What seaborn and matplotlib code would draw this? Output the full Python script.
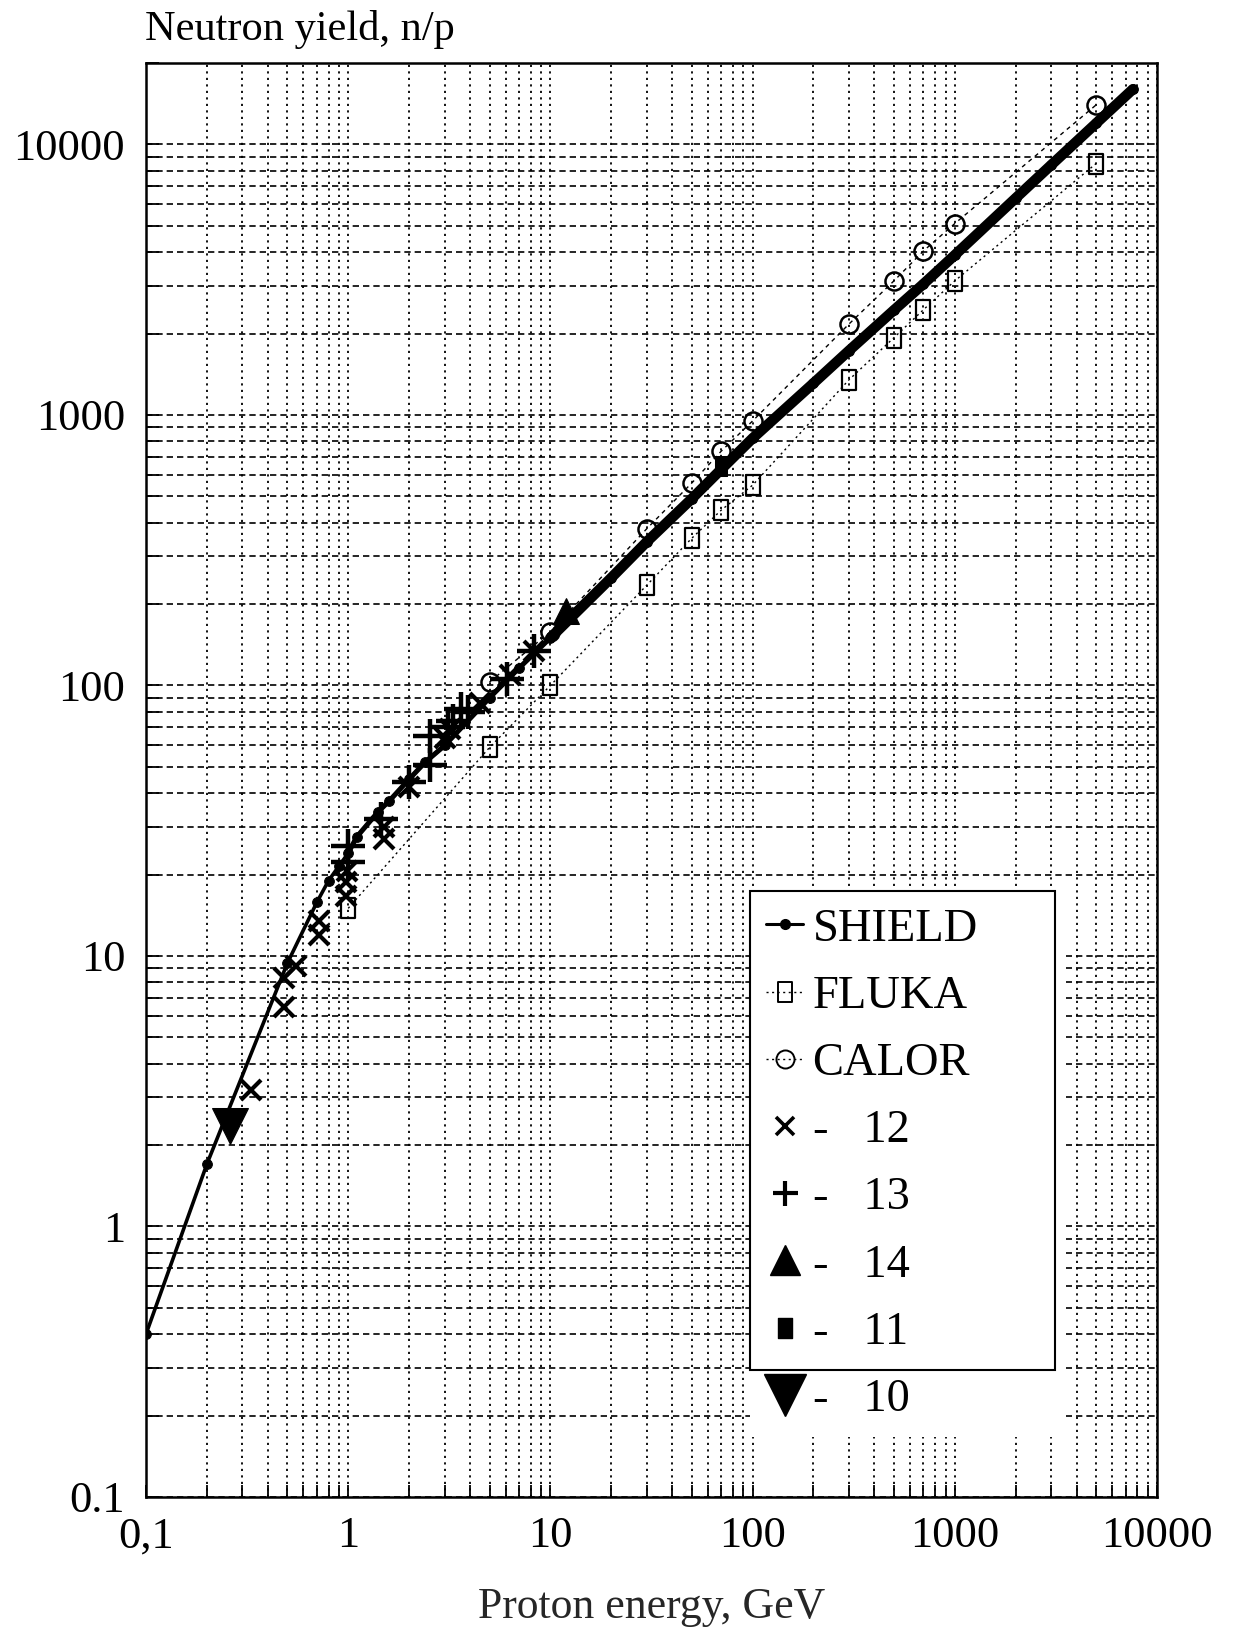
import numpy as np
import pandas as pd
import matplotlib
matplotlib.use("Agg")
import matplotlib.pyplot as plt
import seaborn as sns
from matplotlib.lines import Line2D
from matplotlib.patches import Rectangle
from matplotlib.path import Path

# ---------------- data ----------------
shield_e = [0.1, 0.2, 0.5, 0.7, 0.8, 0.9, 1.0, 1.1, 1.4, 1.6, 2.0, 2.4, 3.0, 5.0, 7.0,
            10, 20, 30, 50, 70, 100, 200, 300, 500, 700, 1000, 2000, 3000, 5000, 7600]
shield_y = [0.40, 1.7, 9.4, 15.8, 19.0, 21.5, 24.0, 27.5, 34.0, 37.5, 45.0, 52.0, 60.0, 90.0, 116,
            150, 250, 340, 490, 630, 820, 1310, 1730, 2440, 3050, 3900, 6330, 8400, 11970, 16000]

fluka_e = [1, 5, 10, 30, 50, 70, 100, 300, 500, 700, 1000, 5000]
fluka_y = [15, 59, 100, 235, 350, 445, 550, 1350, 1930, 2450, 3130, 8500]

calor_e = [5, 10, 30, 50, 70, 100, 300, 500, 700, 1000, 5000]
calor_y = [103, 158, 380, 560, 735, 950, 2170, 3130, 4040, 5100, 14000]

exp12_e = [0.33, 0.48, 0.48, 0.55, 0.72, 0.72, 0.98, 0.98, 0.99, 1.5, 1.5, 2.0, 3.0, 3.2, 4.5, 6.3, 8.3]
exp12_y = [3.2, 6.5, 8.3, 9.2, 12.0, 13.5, 16.7, 18.8, 20.6, 27, 30, 42, 64, 69, 86, 109, 134]

exp13_e = [1.0, 1.0, 1.45, 2.0, 2.55, 2.55, 3.1, 3.3, 3.6, 3.9, 6.1, 8.3]
exp13_y = [22.3, 25.5, 32, 44, 51, 65, 70, 74, 82, 80, 106, 134]

exp14_e = [12]
exp14_y = [188]
exp11_e = [70]
exp11_y = [650]
exp10_e = [0.26]
exp10_y = [2.35]

xticks = [0.1, 1, 10, 100, 1000, 10000]
xticklabels = ["0,1", "1", "10", "100", "1000", "10000"]
yticks = [0.1, 1, 10, 100, 1000, 10000]
yticklabels = ["0.1", "1", "10", "100", "1000", "10000"]

legend_labels = ["SHIELD", "FLUKA", "CALOR", "-   12", "-   13", "-   14", "-   11", "-   10"]

# ---------------- style ----------------
sns.set_theme(style="white")
plt.rcParams["font.family"] = ["Liberation Serif", "DejaVu Serif"]
plt.rcParams["axes.edgecolor"] = "black"
plt.rcParams["text.color"] = "black"
plt.rcParams["xtick.color"] = "black"
plt.rcParams["ytick.color"] = "black"

W, H = 1233, 1629
fig = plt.figure(figsize=(W / 100, H / 100), dpi=100)
L, R, T, B = 146, 1157, 63, 1497
ax = fig.add_axes([L / W, 1 - B / H, (R - L) / W, (B - T) / H])

ax.set_xscale("log")
ax.set_yscale("log")
ax.set_xlim(0.1, 10000)
ax.set_ylim(0.1, 20000)

# grid: vertical dotted, horizontal dashed
ax.grid(True, which="both", axis="x", color="black", linestyle=(0, (1.2, 2.4)), linewidth=1.3)
ax.grid(True, which="both", axis="y", color="black", linestyle=(0, (3.8, 2.4)), linewidth=1.2)
ax.set_axisbelow(True)

for s in ax.spines.values():
    s.set_linewidth(1.8)
    s.set_color("black")

ax.set_xticks(xticks, xticklabels)
ax.set_yticks(yticks, yticklabels)
ax.tick_params(which="both", direction="in", length=9, width=1.3, top=False, right=False,
               bottom=True, left=True)
ax.tick_params(axis="x", which="major", labelsize=32, pad=14)
ax.tick_params(axis="y", which="major", labelsize=32, pad=15)
ax.xaxis.set_minor_formatter(matplotlib.ticker.NullFormatter())
ax.yaxis.set_minor_formatter(matplotlib.ticker.NullFormatter())

rect_marker = Path([(-0.33, -0.5), (0.33, -0.5), (0.33, 0.5), (-0.33, 0.5), (-0.33, -0.5)],
                   [Path.MOVETO, Path.LINETO, Path.LINETO, Path.LINETO, Path.CLOSEPOLY])

# ---------------- SHIELD ----------------
sh = pd.DataFrame({"E": shield_e, "Y": shield_y})
sns.lineplot(data=sh, x="E", y="Y", ax=ax, estimator=None, sort=False, color="black",
             linewidth=2.6, marker="o", markersize=7, markerfacecolor="black",
             markeredgecolor="black", legend=False, zorder=5)
sns.lineplot(data=sh[sh.E >= 1.0], x="E", y="Y", ax=ax, estimator=None, sort=False,
             color="black", linewidth=3.6, legend=False, zorder=5)
sns.lineplot(data=sh[sh.E >= 10], x="E", y="Y", ax=ax, estimator=None, sort=False,
             color="black", linewidth=7.5, legend=False, zorder=5,
             solid_capstyle="round")

# ---------------- FLUKA / CALOR ----------------
fl = pd.DataFrame({"E": fluka_e, "Y": fluka_y})
sns.lineplot(data=fl, x="E", y="Y", ax=ax, estimator=None, sort=False, color="black",
             linewidth=1.0, linestyle=(0, (1.5, 2.5)), marker=rect_marker, markersize=15,
             markerfacecolor="none", markeredgecolor="black", markeredgewidth=1.6,
             legend=False, zorder=4)
ca = pd.DataFrame({"E": calor_e, "Y": calor_y})
sns.lineplot(data=ca, x="E", y="Y", ax=ax, estimator=None, sort=False, color="black",
             linewidth=1.0, linestyle=(0, (3, 3)), marker="o", markersize=13,
             markerfacecolor="none", markeredgecolor="black", markeredgewidth=1.8,
             legend=False, zorder=4)

# ---------------- experimental points ----------------
def pts(e, y, **kw):
    d = pd.DataFrame({"E": e, "Y": y})
    sns.lineplot(data=d, x="E", y="Y", ax=ax, estimator=None, sort=False, color="black",
                 linestyle="none", legend=False, zorder=6, **kw)

pts(exp12_e, exp12_y, marker="x", markersize=15, markeredgecolor="black", markeredgewidth=3)
pts(exp13_e, exp13_y, marker="+", markersize=24, markeredgecolor="black", markeredgewidth=3.2)
pts(exp14_e, exp14_y, marker="^", markersize=19, markerfacecolor="black", markeredgecolor="black")
pts(exp11_e, exp11_y, marker=rect_marker, markersize=14, markerfacecolor="black", markeredgecolor="black")
pts(exp10_e, exp10_y, marker="v", markersize=26, markerfacecolor="black", markeredgecolor="black")

ax.set_ylabel("")

# ---------------- legend ----------------
handles = [
    Line2D([], [], color="black", linewidth=2.2, marker="o", markersize=7),
    Line2D([], [], color="black", linewidth=1.0, linestyle=(0, (1.5, 2.5)), marker=rect_marker,
           markersize=15, markerfacecolor="none", markeredgewidth=1.4),
    Line2D([], [], color="black", linewidth=1.0, linestyle=(0, (1.5, 2.5)), marker="o",
           markersize=13, markerfacecolor="none", markeredgewidth=1.4),
    Line2D([], [], color="black", linestyle="none", marker="x", markersize=13, markeredgewidth=2.6),
    Line2D([], [], color="black", linestyle="none", marker="+", markersize=18, markeredgewidth=3.0),
    Line2D([], [], color="black", linestyle="none", marker="^", markersize=21),
    Line2D([], [], color="black", linestyle="none", marker=rect_marker, markersize=15),
    Line2D([], [], color="black", linestyle="none", marker="v", markersize=30),
]

# white area behind legend and its frame
ax.add_patch(Rectangle(((750 - L) / (R - L), (B - 1437) / (B - T)),
                       (1066 - 750) / (R - L), (1437 - 891) / (B - T),
                       transform=ax.transAxes, facecolor="white", edgecolor="none", zorder=7))
ax.add_patch(Rectangle(((750 - L) / (R - L), (B - 1370) / (B - T)),
                       (1055 - 750) / (R - L), (1370 - 891) / (B - T),
                       transform=ax.transAxes, facecolor="none", edgecolor="black",
                       linewidth=1.5, zorder=8))

leg = ax.legend(handles, legend_labels, loc="upper left",
                bbox_to_anchor=((766 - L) / (R - L), (B - 908) / (B - T)),
                frameon=False, fontsize=33.5, handlelength=0.8, handletextpad=0.2,
                labelspacing=0.53, borderpad=0, borderaxespad=0)
leg.set_zorder(9)

# ---------------- labels ----------------
fig.text(145 / W, 1 - 40 / H, "Neutron yield, n/p", fontsize=30.5, ha="left", va="baseline")
ax.set_xlabel("Proton energy, GeV", fontsize=31.5, labelpad=22)

fig.savefig("out.png", dpi=100, facecolor="white")
